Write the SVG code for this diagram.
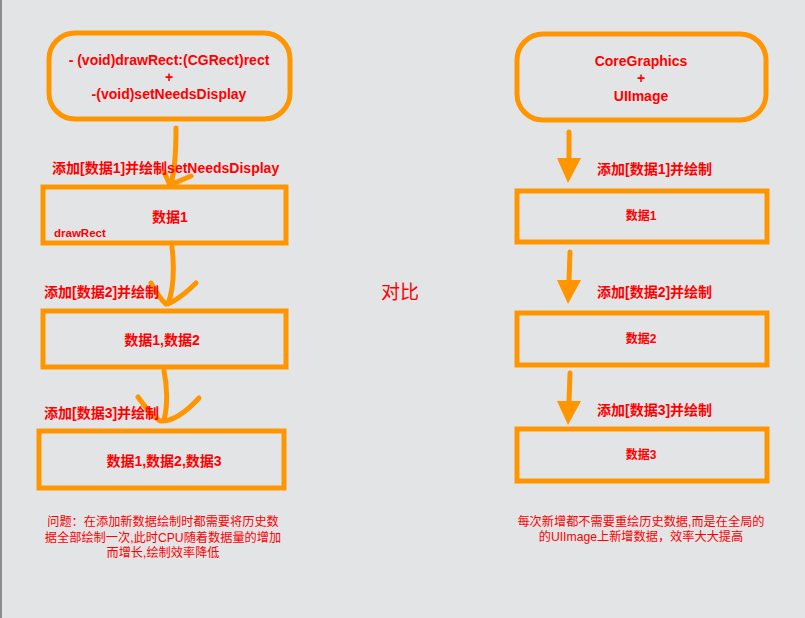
<svg xmlns="http://www.w3.org/2000/svg" width="805" height="618" viewBox="0 0 805 618">
<style>
.box{fill:none;stroke:#ff9600;stroke-width:5}
.ln{fill:none;stroke:#ff9600;stroke-width:5;stroke-linecap:round;stroke-linejoin:round}
.hd{fill:#ff9600}
.t{font-family:"Liberation Sans","Noto Sans CJK SC",sans-serif;fill:#ff0000;font-weight:bold}
.c{text-anchor:middle}
.s{font-weight:normal}
</style>
<rect x="0" y="0" width="805" height="618" fill="#e3e4e6"/>
<rect x="0" y="0" width="2" height="618" fill="#8a8c90"/>

<g id="left-start">
<rect class="box" x="49" y="33" width="241" height="86" rx="26"/>
<text class="t c" x="169" y="65" font-size="14">- (void)drawRect:(CGRect)rect</text>
<text class="t c" x="169" y="82" font-size="14">+</text>
<text class="t c" x="169" y="99" font-size="14">-(void)setNeedsDisplay</text>
</g>
<g id="left-box1">
<rect class="box" x="43" y="187" width="243" height="56"/>
<text class="t c" x="170" y="222" font-size="14">数据1</text>
<text class="t" x="54" y="237" font-size="11.5">drawRect</text>
</g>
<g id="left-box2">
<rect class="box" x="43" y="311" width="243" height="56"/>
<text class="t c" x="162" y="345" font-size="14">数据1,数据2</text>
</g>
<g id="left-box3">
<rect class="box" x="39" y="431" width="245" height="57"/>
<text class="t c" x="164" y="466" font-size="14">数据1,数据2,数据3</text>
</g>

<g id="right-start">
<rect class="box" x="517" y="34" width="249" height="86" rx="26"/>
<text class="t c" x="641" y="66" font-size="14">CoreGraphics</text>
<text class="t c" x="641" y="83" font-size="14">+</text>
<text class="t c" x="641" y="101" font-size="14">UIImage</text>
</g>
<g id="right-box1">
<rect class="box" x="517" y="191" width="250" height="51"/>
<text class="t c" x="641" y="220" font-size="12">数据1</text>
</g>
<g id="right-box2">
<rect class="box" x="517" y="313" width="250" height="52"/>
<text class="t c" x="641" y="343" font-size="12">数据2</text>
</g>
<g id="right-box3">
<rect class="box" x="517" y="429" width="250" height="52"/>
<text class="t c" x="641" y="459" font-size="12">数据3</text>
</g>

<g id="connectors">
<path class="ln" d="M176 128 C176 150 175 170 171 184"/>
<path class="ln" d="M164 172 L170 185 L191 176"/>
<path class="ln" d="M172 247 C174 265 175 285 168 304"/>
<path class="ln" d="M151 283 C156 292 161 300 166 304 M196 283 C187 292 178 299 170 303"/>
<path class="ln" d="M164 371 C167 385 168 405 164 420"/>
<path class="ln" d="M138 397 C145 407 152 416 160 421 C174 422 188 410 199 398"/>

<path class="ln" d="M569 132 L569 158"/>
<path class="hd" d="M557 158 L581 158 L568 183 Z"/>
<path class="ln" d="M570 252 L569 281"/>
<path class="hd" d="M557 280 L581 280 L568 304 Z"/>
<path class="ln" d="M570 373 L569 402"/>
<path class="hd" d="M557 401 L581 401 L568 425 Z"/>
</g>

<g id="labels">
<text class="t" x="52" y="173" font-size="14">添加[数据1]并绘制setNeedsDisplay</text>
<text class="t" x="44" y="297" font-size="14">添加[数据2]并绘制</text>
<text class="t" x="44" y="418" font-size="14">添加[数据3]并绘制</text>
<text class="t" x="597" y="174" font-size="14">添加[数据1]并绘制</text>
<text class="t" x="597" y="297" font-size="14">添加[数据2]并绘制</text>
<text class="t" x="597" y="415" font-size="14">添加[数据3]并绘制</text>
<text class="t c s" x="400" y="299" font-size="19">对比</text>
<text class="t c s" x="163" y="526" font-size="12.2">问题：在添加新数据绘制时都需要将历史数</text>
<text class="t c s" x="163" y="542" font-size="12.2">据全部绘制一次,此时CPU随着数据量的增加</text>
<text class="t c s" x="163" y="557" font-size="12.2">而增长,绘制效率降低</text>
<text class="t c s" x="641" y="526" font-size="12.2">每次新增都不需要重绘历史数据,而是在全局的</text>
<text class="t c s" x="641" y="541" font-size="12.2">的UIImage上新增数据，效率大大提高</text>
</g>
</svg>
